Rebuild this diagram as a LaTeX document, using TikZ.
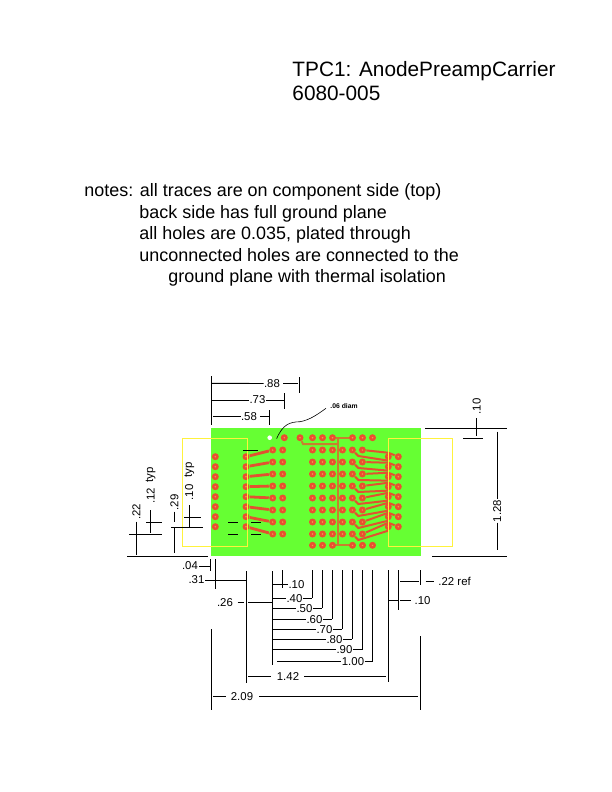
\documentclass[tikz,border=0pt]{standalone}
\usepackage{fontspec}
\setmainfont{Liberation Sans}
\definecolor{boardgreen}{HTML}{66FF33}
\definecolor{holered}{HTML}{EA4F30}
\definecolor{holecore}{HTML}{F09A50}
\definecolor{tracered}{HTML}{E25230}
\definecolor{busbrown}{HTML}{C8802E}
\definecolor{outlineyellow}{HTML}{FFF23C}

\begin{document}
\begin{tikzpicture}[x=1pt,y=-1pt,line width=.9pt,
  hole/.style={circle,fill=holered,minimum size=7pt,inner sep=0pt,
    path picture={\fill[holecore] (path picture bounding box.center) circle (.8pt);}},
  trace/.style={draw=tracered,line width=2pt},
  bus/.style={draw=busbrown,line width=2pt},
  outline/.style={draw=outlineyellow,line width=.7pt},
  title/.style={anchor=base west,inner sep=0pt,font=\fontsize{20.8}{24}\selectfont},
  note/.style={anchor=base west,inner sep=0pt,font=\fontsize{17.95}{20}\selectfont},
  dim/.style={inner sep=0pt,font=\fontsize{11.4}{13}\selectfont},
  tiny/.style={inner sep=0pt,font=\fontsize{6.8}{8}\bfseries}]

\useasboundingbox[fill=white] (0,0) rectangle (612,792);

\node[title] (name) at (292,76.5) {TPC1: AnodePreampCarrier};
\node[title] (part) at (292,100.5) {6080-005};

\node[note] (notes1) at (84,196) {notes: all traces are on component side (top)};
\node[note] (notes2) at (139,218) {back side has full ground plane};
\node[note] (notes3) at (139,239) {all holes are 0.035, plated through};
\node[note] (notes4) at (139,261) {unconnected holes are connected to the};
\node[note] (notes5) at (168,282) {ground plane with thermal isolation};

% board
\fill[boardgreen] (211,428) rectangle (421,556);

% holes
\foreach \k in {0,...,7} {
  \node[hole] (a\k) at (215.3,456.7+10*\k) {};
  \node[hole] (b\k) at (246,456.7+10*\k) {};
  \node[hole] (c\k) at (272.7,450+12*\k) {};
  \node[hole] (d\k) at (282.7,450+12*\k) {};
  \node[hole] (u\k) at (388.3,456.7+10*\k) {};
  \node[hole] (v\k) at (398.3,456.7+10*\k) {};
  \node[hole] (p\k) at (352.4,450+12*\k) {};
  \node[hole] (q\k) at (362.4,450+12*\k) {};
  \foreach \x in {312.5,322.5,332.5,342.5}
    \node[hole] at (\x,450+12*\k) {};
}
\foreach \x/\n in {284.3/1,300/2,312.5/3,322.5/4,332.5/5,352.5/6,362.5/7,372.5/8}
  \node[hole] (t\n) at (\x,437.7) {};
\foreach \x/\n in {312.5/3,322.5/4,332.5/5,352.5/6,362.5/7,372.5/8}
  \node[hole] (s\n) at (\x,545.3) {};
\node[circle,fill=white,minimum size=4.6pt,inner sep=0pt] (mount) at (269.7,437.7) {};

% traces
\foreach \k in {0,...,7} {
  \draw[trace,line width=2.8pt] (b\k) -- (c\k);
  \draw[trace] (q\k) -- (u\k.north);
  \draw[trace] (p\k) -- ++(6,6) -- (u\k.south);
  \draw[trace] (u\k.north) -- (v\k);
}
\coordinate (bustop) at (337.7,437.7);
\coordinate (busbot) at (337.7,545.3);
\coordinate (busjog) at (337.7,444);
\draw[bus] (t5) -- (t6);
\draw[bus] (s5) -- (s6);
\draw[bus] (bustop) -- (busbot);
\draw[bus] (t2) -- (303,444) -- (busjog);

\draw[outline] (182.7,438.3) rectangle (247,546.5);
\draw[outline] (388.3,438.3) rectangle (452.7,546.5);

% black ticks on the board
\foreach \y in {522.3,534.3} {
  \draw (228.3,\y) -- (238.3,\y);
  \draw (251,\y) -- (261,\y);
}
\draw (243,450.3) -- (257.7,450.3);

% top dims
\draw (211.3,376) -- (211.3,425);
\node[dim] (d88) at (272,383.5) {.88};
\draw (211.3,383.3) -- (d88.west);
\draw (283,383.3) -- (298,383.3);
\draw (299.3,377) -- (299.3,393);
\node[dim] (d73) at (257.5,400) {.73};
\draw (211.3,400) -- (d73.west);
\draw (d73.east) -- (284.7,400);
\draw (284.7,393) -- (284.7,409);
\node[dim] (d58) at (249,416.7) {.58};
\draw (213,416.7) -- (d58.west);
\draw (d58.east) ++(3,0) -- (269.3,416.7);
\draw (269.3,410) -- (269.3,425);
\draw[line width=.6pt] (mount.south east) ++(5,-1) .. controls (283,424) and (290,422) .. (300,421.7) .. controls (310,420) and (318,414) .. (326,408.3);
\node[tiny,anchor=west] (diam) at (330,406) {.06 diam};

% left dims
\draw (127.3,556) -- (208,556);
\draw (136.3,521.7) -- (136.3,555);
\draw (129,534.3) -- (161.7,534.3);
\node[dim,rotate=90] (d22) at (136.3,512) {.22};
\draw (150.7,510) -- (150.7,533);
\draw (146,522.3) -- (162,522.3);
\node[dim,rotate=90] (d12) at (150.7,496) {.12};
\node[dim,rotate=90] (t12) at (150.7,475) {typ};
\draw (174.5,511.5) -- (174.5,521.7);
\draw (174.5,528) -- (174.5,553);
\draw (171,527.7) -- (203.3,527.7);
\node[dim,rotate=90] (d29) at (174.5,502.5) {.29};
\draw (189.3,505) -- (189.3,527.3);
\draw (184,517.3) -- (201,517.3);
\node[dim,rotate=90] (d10) at (189.3,492.5) {.10};
\node[dim,rotate=90] (t10) at (189.3,470) {typ};

% bottom dims
\node[dim] (d04) at (190,566) {.04};
\draw (199,566) -- (210.7,566);
\draw (210.7,559.3) -- (210.7,570.7);
\draw (215,559.3) -- (215,589);
\node[dim] (d31) at (196.5,580) {.31};
\draw (205,580) -- (246.3,580);
\draw (246.3,571) -- (246.3,683);
\node[dim] (d26) at (225,603) {.26};
\draw (237.7,602.3) -- (244,602.3);
\draw (248,602.3) -- (272.7,602.3);
\draw (272.7,571) -- (272.7,665);

\draw (282.3,570) -- (282.3,588);
\draw (272.7,584.3) -- (288,584.3);
\node[dim] (d10a) at (296.5,585) {.10};
\foreach \x/\y/\t/\n in {312.3/598.3/.40/a,322.3/608.3/.50/b,332.3/619.3/.60/c,342.3/629.3/.70/d,352.3/639.3/.80/e,362.3/649.7/.90/f} {
  \node[dim,anchor=east] (l\n) at (\x-9.5,\y) {\t};
  \draw (272.7,\y) -- (l\n.west);
  \draw (l\n.east) -- (\x,\y);
  \draw (\x,570) -- (\x,\y);
}
\node[dim] (d100) at (353,661.7) {1.00};
\draw (277,661.7) -- (d100.west);
\draw (d100.east) -- (372.3,661.7);
\draw (372.3,570) -- (372.3,661.7);

\node[dim] (d142) at (288,677) {1.42};
\draw (248,676.7) -- (271,676.7);
\draw (304,676.7) -- (386,676.7);
\draw (388.3,570) -- (388.3,682.3);

\draw (211.7,629) -- (211.7,710);
\node[dim] (d209) at (242,697) {2.09};
\draw (213,696.7) -- (226,696.7);
\draw (259,696.7) -- (417.7,696.7);
\draw (420.3,636) -- (420.3,710);

\draw (420.3,570) -- (420.3,585);
\draw (400,581) -- (419,581);
\draw (425.7,581) -- (434,581);
\node[dim,anchor=west] (d22r) at (438,581) {.22 ref};
\draw (398.3,570) -- (398.3,610);
\draw (389,600) -- (398.3,600);
\draw (400,600) -- (410.7,600);
\node[dim] (d10b) at (422.5,601) {.10};

% right dims
\draw (425,428.3) -- (507,428.3);
\draw (463,438.3) -- (483,438.3);
\draw (476.7,418) -- (476.7,436);
\node[dim,rotate=90] (d10c) at (476.7,406.5) {.10};
\draw (432,556) -- (507,556);
\node[dim,rotate=90] (d128) at (497.3,511) {1.28};
\draw (497.3,431.7) -- (d128.east);
\draw (d128.west) -- (497.3,550);
\end{tikzpicture}
\end{document}
